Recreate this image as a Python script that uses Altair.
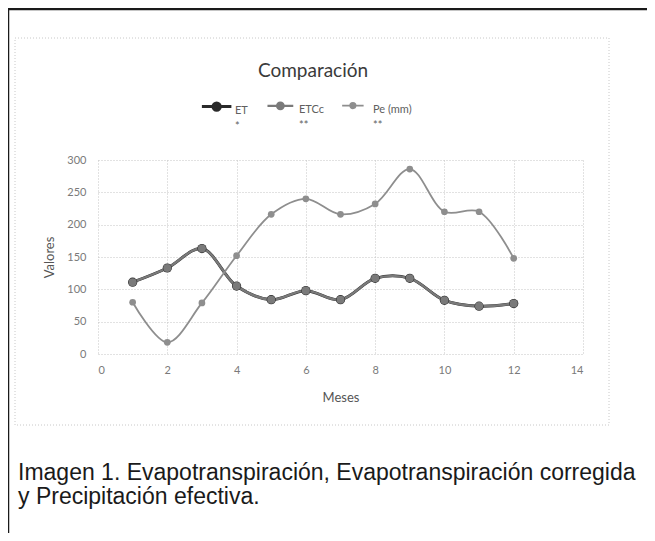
import altair as alt
import pandas as pd

months = list(range(1, 13))
et_vals = [111, 133, 163, 105, 84, 98, 84, 117, 117, 83, 74, 78]
etcc_vals = [111, 133, 163, 105, 84, 98, 84, 117, 117, 83, 74, 78]
pe_vals = [80, 18, 79, 152, 216, 240, 216, 232, 286, 220, 220, 148]
series_names = ["ET", "ETCc", "Pe (mm)"]
series_colors = ["#2a2a2a", "#7a7a7a", "#8e8e8e"]
x_ticks = [0, 2, 4, 6, 8, 10, 12, 14]
y_ticks = [0, 50, 100, 150, 200, 250, 300]
chart_title = "Comparación"
x_title = "Meses"
y_title = "Valores"
caption = "Imagen 1. Evapotranspiración, Evapotranspiración corregida\ny Precipitación efectiva."

rows = []
for name, vals in zip(series_names, [et_vals, etcc_vals, pe_vals]):
    for m, v in zip(months, vals):
        rows.append({"Mes": m, "Valor": v, "Serie": name, "grupo": name,
                     "orden": series_names.index(name)})
df = pd.DataFrame(rows)

FONT = "Lato"
grid_color = "#c4c4c4"
# legend glyph: short line with a dot, drawn to the right of the entry origin
SYMBOL = "M-1,0.4L5.4,0.4M1.4,0.4A0.8,0.8,0,1,1,3,0.4A0.8,0.8,0,1,1,1.4,0.4Z"

color_scale = alt.Scale(domain=series_names, range=series_colors)
legend = alt.Legend(
    title=None, orient="none", legendX=102, legendY=-62, direction="horizontal",
    symbolType=SYMBOL, symbolSize=100, symbolStrokeWidth=1.8, columnPadding=14, labelOffset=22,
    labelFont=FONT, labelFontSize=11, labelColor="#606060",
    labelExpr="datum.label == 'ET' ? ['ET', '*'] : [datum.label, '**']",
    labelBaseline="top", padding=0,
)

x_axis = alt.Axis(values=x_ticks, title=x_title, grid=True, ticks=False, domain=False,
                  labelPadding=10, titlePadding=16, format="d", labelOverlap=False)
y_axis = alt.Axis(values=y_ticks, title=y_title, grid=True, ticks=False, domain=False,
                  labelPadding=12, titlePadding=10, labelOverlap=False)
x_scale = alt.Scale(domain=[0, 14], nice=False)
y_scale = alt.Scale(domain=[0, 300], nice=False)

base = alt.Chart(df)
lines = base.mark_line(interpolate="catmull-rom").encode(
    x=alt.X("Mes:Q", scale=x_scale, axis=x_axis),
    y=alt.Y("Valor:Q", scale=y_scale, axis=y_axis),
    color=alt.Color("Serie:N", scale=color_scale, sort=series_names, legend=legend),
    strokeWidth=alt.StrokeWidth("grupo:N", scale=alt.Scale(domain=series_names, range=[3, 1.8, 1.6]), legend=None),
    order="orden:Q",
)
points = base.mark_point(filled=True, opacity=1).encode(
    x=alt.X("Mes:Q", scale=x_scale, axis=x_axis),
    y=alt.Y("Valor:Q", scale=y_scale, axis=y_axis),
    color=alt.Color("Serie:N", scale=color_scale, sort=series_names, legend=None),
    size=alt.Size("grupo:N", scale=alt.Scale(domain=series_names, range=[85, 45, 72]), legend=None),
    order="orden:Q",
)

frame_df = pd.DataFrame({"k": [0]})
outer = alt.Chart(frame_df).mark_rect(fill="transparent", stroke="#1a1a1a", strokeWidth=2.5).encode(
    x=alt.value(-90), x2=alt.value(600), y=alt.value(-151), y2=alt.value(420))
inner = alt.Chart(frame_df).mark_rect(fill="transparent", stroke="#c8c8c8", strokeWidth=1, strokeDash=[1, 2]).encode(
    x=alt.value(-83), x2=alt.value(511), y=alt.value(-122), y2=alt.value(265))

title_df = pd.DataFrame({"t": [chart_title]})
title = alt.Chart(title_df).mark_text(font=FONT, fontSize=19, color="#3a3a3a", align="center", baseline="alphabetic").encode(
    text="t:N", x=alt.value(215), y=alt.value(-83))

cap_df = pd.DataFrame({"t": [caption]})
cap = alt.Chart(cap_df).mark_text(font="Liberation Sans", fontSize=23, color="#1a1a1a", align="left",
                                  baseline="alphabetic", lineBreak="\n", lineHeight=24).encode(
    text="t:N", x=alt.value(-80), y=alt.value(320))

chart = alt.layer(outer, inner, title, cap, lines, points).properties(
    width=485, height=194,
    autosize=alt.AutoSizeParams(type="none"),
    padding={"left": 90, "top": 152, "right": 64, "bottom": 179},
).configure(
    style={"guide-label": {"lineHeight": 16}}
).configure_view(stroke=None).configure_axis(
    labelFont=FONT, labelFontSize=11, labelColor="#7a7a7a",
    titleFont=FONT, titleFontSize=13, titleFontWeight="normal", titleColor="#555555",
    gridColor=grid_color, gridDash=[1, 2], gridWidth=1,
).configure_legend(
    symbolSize=100, symbolType=SYMBOL, symbolStrokeWidth=1.8, symbolFillColor="#6e6e6e",
)

chart.save("out.html", embed_options={"renderer": "svg", "actions": False})
